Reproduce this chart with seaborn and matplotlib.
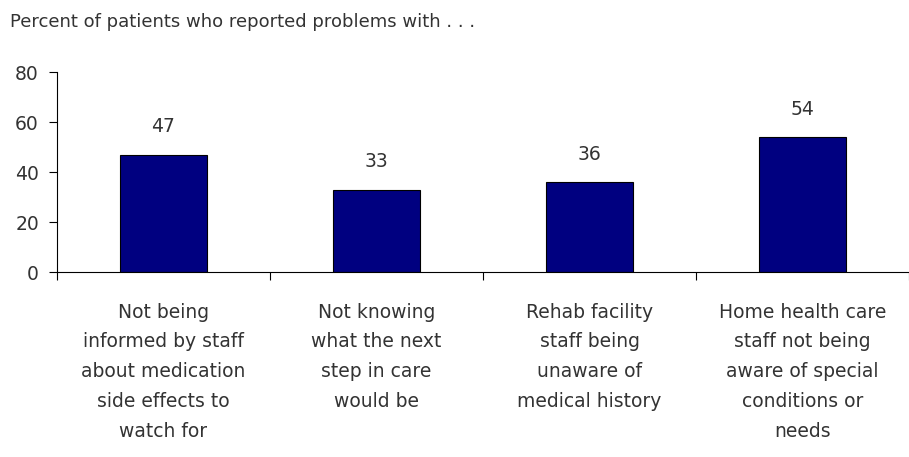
import matplotlib
matplotlib.use("Agg")
import matplotlib.pyplot as plt
import seaborn as sns
import pandas as pd

categories = [
    "Not being\ninformed by staff\nabout medication\nside effects to\nwatch for",
    "Not knowing\nwhat the next\nstep in care\nwould be",
    "Rehab facility\nstaff being\nunaware of\nmedical history",
    "Home health care\nstaff not being\naware of special\nconditions or\nneeds",
]
values = [47, 33, 36, 54]
y_ticks = [0, 20, 40, 60, 80]
title = "Percent of patients who reported problems with . . ."

sns.set_theme(style="white")
plt.rcParams["font.family"] = ["DejaVu Sans"]
text_color = "#333333"
fs = 13.5

df = pd.DataFrame({"cat": categories, "val": values})

fig = plt.figure(figsize=(9.09, 4.57), dpi=100)
ax = fig.add_axes([57 / 909, 1 - 272 / 457, 1 - 57 / 909, 200 / 457])
sns.barplot(data=df, x="cat", y="val", color="#000080", edgecolor="black",
            linewidth=0.8, width=0.41, saturation=1, ax=ax)

ax.set_xlim(-0.5, 3.5)
ax.set_ylim(0, 80)
ax.set_yticks(y_ticks)
ax.set_yticklabels([str(t) for t in y_ticks], fontsize=fs, color=text_color)
ax.set_xticks(range(len(categories)))
ax.set_xticklabels(categories, fontsize=fs, color=text_color, linespacing=1.72, va="top")
ax.tick_params(axis="x", which="major", length=0, pad=22)
ax.set_xticks([-0.5, 0.5, 1.5, 2.5, 3.5], minor=True)
ax.tick_params(axis="x", which="minor", length=6, width=0.8, color="black", direction="out", bottom=True)
ax.tick_params(axis="y", which="major", length=6, width=0.8, color="black", direction="out", left=True, pad=7)
ax.set_xlabel("")
ax.set_ylabel("")

for s in ["top", "right"]:
    ax.spines[s].set_visible(False)
for s in ["left", "bottom"]:
    ax.spines[s].set_color("black")
    ax.spines[s].set_linewidth(0.8)

for i, v in enumerate(values):
    ax.annotate(str(v), (i, v), xytext=(0, 13), textcoords="offset points",
                ha="center", va="bottom", fontsize=fs, color=text_color)

fig.text(10 / 909, 1 - 22 / 457, title, fontsize=13, color=text_color, ha="left", va="center")

fig.savefig("out.png", dpi=100)
